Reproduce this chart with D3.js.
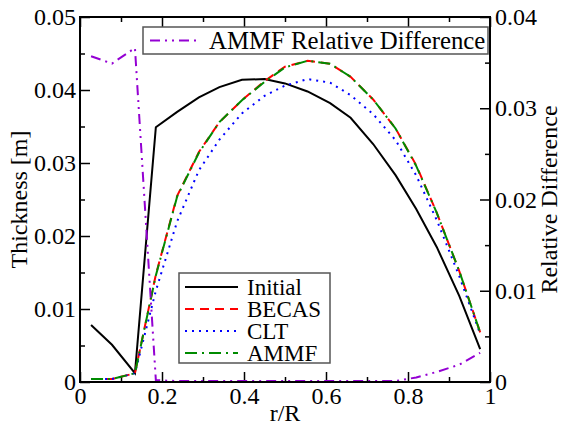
<!DOCTYPE html>
<html>
<head>
<meta charset="utf-8">
<script src="https://cdn.jsdelivr.net/npm/d3@7"></script>
<style>
  body { margin: 0; background: #fff; }
</style>
</head>
<body>
<svg id="chart" width="563" height="427"></svg>
<script>
// radial stations r/R
const stations = [0.027, 0.078, 0.134, 0.185, 0.237, 0.29, 0.34, 0.395, 0.45, 0.5,
  0.555, 0.61, 0.66, 0.715, 0.77, 0.82, 0.87, 0.925, 0.976];

const initial = [0.0078, 0.0051, 0.0012, 0.0349, 0.0370, 0.0390, 0.0404, 0.0414, 0.0415, 0.0409,
  0.0398, 0.0382, 0.0362, 0.0326, 0.0283, 0.0237, 0.0185, 0.0118, 0.0045];
const becas = [0.0004, 0.0004, 0.0012, 0.0147, 0.0255, 0.0315, 0.0356, 0.0386, 0.0412, 0.0432,
  0.0440, 0.0436, 0.0418, 0.0387, 0.0347, 0.0297, 0.0232, 0.0152, 0.0068];
const clt = [0.0004, 0.0004, 0.0012, 0.0125, 0.0220, 0.0290, 0.0332, 0.0368, 0.0392, 0.0406,
  0.0415, 0.0410, 0.0393, 0.0367, 0.0331, 0.0283, 0.0222, 0.0145, 0.0066];
const ammf = [0.0004, 0.0004, 0.0012, 0.0146, 0.0254, 0.0314, 0.0356, 0.0386, 0.0411, 0.0431,
  0.0440, 0.0436, 0.0418, 0.0387, 0.0347, 0.0296, 0.0232, 0.0152, 0.0068];
const relDiff = [0.0357, 0.0349, 0.0366, 0.0002, 0.0001, 0.0001, 0.0001, 0.0001, 0.0001, 0.0001,
  0.0001, 0.0001, 0.0001, 0.0001, 0.0001, 0.0005, 0.0011, 0.0019, 0.0032];

const xTicks = [0, 0.2, 0.4, 0.6, 0.8, 1];
const yTicks = [0, 0.01, 0.02, 0.03, 0.04, 0.05];
const y2Ticks = [0, 0.01, 0.02, 0.03, 0.04];

const FONT = '"Liberation Serif"';
const margin = { left: 80, right: 73, top: 17, bottom: 45 };
const W = 563, H = 427;
const svg = d3.select('#chart');

const x = d3.scaleLinear().domain([0, 1]).range([margin.left, W - margin.right]);
const y = d3.scaleLinear().domain([0, 0.05]).range([H - margin.bottom, margin.top]);
const y2 = d3.scaleLinear().domain([0, 0.04]).range([H - margin.bottom, margin.top]);

const fmt = (d) => (d === 0 ? '0' : String(+d.toFixed(2)));

const styleAxis = (g) => {
  g.select('.domain').remove();
  g.selectAll('line').attr('stroke', '#000').attr('stroke-width', 1.5);
  g.selectAll('text').attr('fill', '#000').attr('font-size', 24)
    .style('font-family', FONT);
};

const addText = (sel, size) => sel.append('text')
  .style('font-family', FONT).attr('font-size', size).attr('fill', '#000');

// bottom axis
svg.append('g').attr('transform', `translate(0,${y.range()[0]})`)
  .call(d3.axisBottom(x).tickValues(xTicks).tickFormat(fmt).tickSizeInner(-10).tickSizeOuter(0).tickPadding(5))
  .call(styleAxis);
svg.append('g').attr('transform', `translate(0,${y.range()[0]})`)
  .call(d3.axisBottom(x).tickValues(d3.range(0.1, 1, 0.2)).tickFormat('').tickSizeInner(-5).tickSizeOuter(0))
  .call(styleAxis);
// top axis
svg.append('g').attr('transform', `translate(0,${margin.top})`)
  .call(d3.axisTop(x).tickValues(xTicks).tickFormat('').tickSizeInner(-10).tickSizeOuter(0))
  .call(styleAxis);
svg.append('g').attr('transform', `translate(0,${margin.top})`)
  .call(d3.axisTop(x).tickValues(d3.range(0.1, 1, 0.2)).tickFormat('').tickSizeInner(-5).tickSizeOuter(0))
  .call(styleAxis);
// left axis
svg.append('g').attr('transform', `translate(${margin.left},0)`)
  .call(d3.axisLeft(y).tickValues(yTicks).tickFormat(fmt).tickSizeInner(-10).tickSizeOuter(0).tickPadding(4))
  .call(styleAxis);
svg.append('g').attr('transform', `translate(${margin.left},0)`)
  .call(d3.axisLeft(y).tickValues(d3.range(0.005, 0.05, 0.01)).tickFormat('').tickSizeInner(-5).tickSizeOuter(0))
  .call(styleAxis);
// right axis
svg.append('g').attr('transform', `translate(${W - margin.right},0)`)
  .call(d3.axisRight(y2).tickValues(y2Ticks).tickFormat(fmt).tickSizeInner(-10).tickSizeOuter(0).tickPadding(5))
  .call(styleAxis);
svg.append('g').attr('transform', `translate(${W - margin.right},0)`)
  .call(d3.axisRight(y2).tickValues(d3.range(0.005, 0.04, 0.01)).tickFormat('').tickSizeInner(-5).tickSizeOuter(0))
  .call(styleAxis);

// series
const series = [
  { name: 'Initial', values: initial, scale: y, color: '#000000', dash: null },
  { name: 'BECAS', values: becas, scale: y, color: '#ff0000', dash: '9,6' },
  { name: 'CLT', values: clt, scale: y, color: '#0000ff', dash: '2,5' },
  { name: 'AMMF', values: ammf, scale: y, color: '#008b00', dash: '12,5,2,5' },
  { name: 'AMMF Relative Difference', values: relDiff, scale: y2, color: '#9400d3', dash: '10,5,2,5,2,5' },
];

series.forEach((s) => {
  const line = d3.line().x((d, i) => x(stations[i])).y((d) => s.scale(d));
  svg.append('path')
    .datum(s.values)
    .attr('d', line)
    .attr('fill', 'none')
    .attr('stroke', s.color)
    .attr('stroke-width', 2)
    .attr('stroke-dasharray', s.dash);
});

// frame
svg.append('rect')
  .attr('x', margin.left).attr('y', margin.top)
  .attr('width', W - margin.left - margin.right)
  .attr('height', H - margin.top - margin.bottom)
  .attr('fill', 'none').attr('stroke', '#000').attr('stroke-width', 2);

// legends
const legendBox = (x0, y0, w, h) => svg.append('rect')
  .attr('x', x0).attr('y', y0).attr('width', w).attr('height', h)
  .attr('fill', '#fff').attr('stroke', '#555').attr('stroke-width', 1.5);

legendBox(143, 27, 345, 27);
const relSeries = series[4];
svg.append('line').attr('x1', 150).attr('x2', 200).attr('y1', 40.5).attr('y2', 40.5)
  .attr('stroke', relSeries.color).attr('stroke-width', 2).attr('stroke-dasharray', relSeries.dash);
addText(svg, 24.8).attr('x', 209).attr('y', 49).text(relSeries.name);

legendBox(179, 273, 151, 90);
series.slice(0, 4).forEach((s, i) => {
  const yy = 287 + i * 22;
  svg.append('line').attr('x1', 185).attr('x2', 238).attr('y1', yy).attr('y2', yy)
    .attr('stroke', s.color).attr('stroke-width', 2).attr('stroke-dasharray', s.dash);
  addText(svg, 23).attr('x', 247).attr('y', yy + 8).text(s.name);
});

// axis titles
addText(svg, 24).attr('x', x(0.5)).attr('y', 421).attr('text-anchor', 'middle').text('r/R');
addText(svg, 24).attr('transform', `translate(27,${y(0.025)}) rotate(-90)`)
  .attr('text-anchor', 'middle').text('Thickness [m]');
addText(svg, 24).attr('transform', `translate(557,${y(0.025)}) rotate(-90)`)
  .attr('text-anchor', 'middle').text('Relative Difference');
</script>
</body>
</html>
